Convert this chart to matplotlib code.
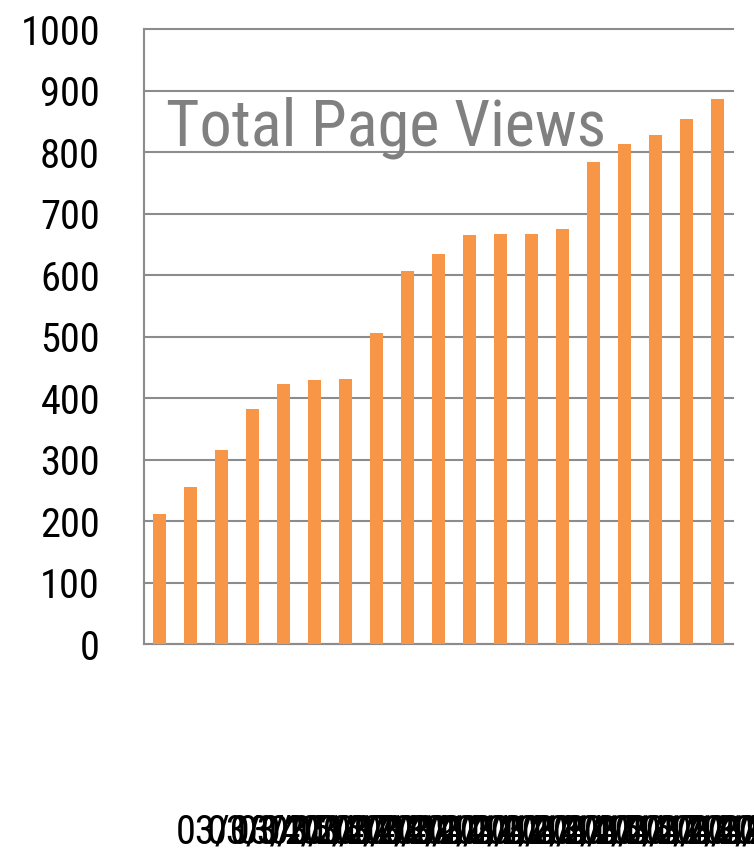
import matplotlib
matplotlib.use("Agg")
import matplotlib.pyplot as plt
import matplotlib.transforms as mtransforms
from matplotlib import font_manager
import numpy as np

# Data
dates = [
    "03/03/2014", "03/04/2014", "03/05/2014", "03/06/2014", "03/07/2014",
    "03/08/2014", "03/09/2014", "03/10/2014", "03/11/2014", "03/12/2014",
    "03/13/2014", "03/14/2014", "03/15/2014", "03/16/2014", "03/17/2014",
    "03/18/2014", "03/19/2014", "03/20/2014", "03/21/2014",
]
page_views = [211, 256, 315, 382, 423, 429, 431, 506, 607, 635,
              666, 668, 668, 675, 784, 814, 829, 854, 887]
y_ticks = list(range(0, 1001, 100))
title = "Total Page Views"

# Pick a narrow font if one is around
installed = {f.name for f in font_manager.fontManager.ttflist}
font = "DejaVu Sans"
for cand in ["Roboto Condensed", "Liberation Sans Narrow", "Open Sans Condensed"]:
    if cand in installed:
        font = cand
        break
plt.rcParams["font.family"] = [font, "DejaVu Sans"]

DPI = 100
fig = plt.figure(figsize=(7.54, 8.57), dpi=DPI)
W, H = 754, 857
ax = fig.add_axes([144 / W, (H - 644) / H, 589 / W, (644 - 29.5) / H])
renderer = fig.canvas.get_renderer()


def fit_size(text, target_px):
    t = fig.text(0, 0, text, fontsize=100)
    w = t.get_window_extent(renderer).width
    t.remove()
    return 100 * target_px / w


tick_size = fit_size("1000", 80)
title_size = fit_size(title, 440)

x = np.arange(len(page_views))
ax.bar(x, page_views, width=0.39, color="#F79646", zorder=3)

ax.set_xlim(-0.5, len(page_views) - 0.5)
ax.set_ylim(0, 1000)
ax.set_yticks(y_ticks)
ax.yaxis.grid(True, color="#8C8C8C", linewidth=1.5, zorder=0)
for gl in ax.get_ygridlines():
    gl.set_clip_on(False)
ax.set_axisbelow(True)

for side in ["top", "right"]:
    ax.spines[side].set_visible(False)
for side in ["left", "bottom"]:
    ax.spines[side].set_color("#8C8C8C")
    ax.spines[side].set_linewidth(1.5)

ax.tick_params(axis="y", length=0, pad=44 * 72 / DPI, labelsize=tick_size,
               labelcolor="black")
ax.set_xticks(x, dates)
ax.tick_params(axis="x", length=0, pad=168 * 72 / DPI, labelsize=tick_size,
               labelcolor="black")
shift = mtransforms.ScaledTranslation(16 / DPI, 0, fig.dpi_scale_trans)
for lab in ax.get_xticklabels():
    lab.set_ha("left")
    lab.set_transform(lab.get_transform() + shift)

ax.text(22 / 589, (644 - 146) / 614.5, title, transform=ax.transAxes,
        fontsize=title_size, color="#808080", ha="left", va="baseline",
        zorder=2)

fig.savefig("out.png", dpi=DPI)
